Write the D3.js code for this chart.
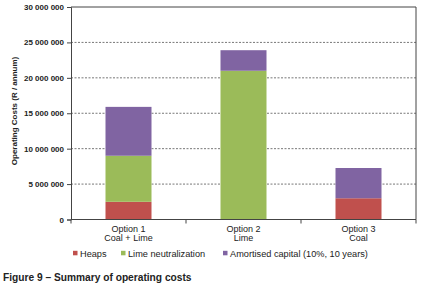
<!DOCTYPE html>
<html><head><meta charset="utf-8">
<script src="https://cdn.jsdelivr.net/npm/d3@7"></script>
<style>body{margin:0;background:#fff}svg{display:block;font-family:"Liberation Sans",Arial,sans-serif}</style>
</head><body>
<svg id="c" width="426" height="288"></svg>
<script>
const categories = [["Option 1","Coal + Lime"],["Option 2","Lime"],["Option 3","Coal"]];
const seriesNames = ["Heaps","Lime neutralization","Amortised capital (10%, 10 years)"];
const heaps = [2500000, 0, 3000000];
const lime = [6500000, 21000000, 0];
const capital = [6900000, 2900000, 4270000];
const yTicks = [0,5000000,10000000,15000000,20000000,25000000,30000000];
const colors = ["#C0504D","#9BBB59","#8064A2"];

const svg = d3.select("#c");
const m = {l:71, r:10, t:7, b:68.5};
const W = 426, H = 288;
const x = d3.scaleBand().domain(d3.range(categories.length)).range([m.l, W-m.r]).paddingInner(0.6).paddingOuter(0.3);
const y = d3.scaleLinear().domain([0,30000000]).range([H-m.b, m.t]);
const fmt = v => d3.format(",")(v).replace(/,/g," ");

// gridlines
svg.append("g").selectAll("line").data(yTicks.filter(t=>t>0 && t<30000000)).join("line")
  .attr("x1", m.l).attr("x2", W-m.r).attr("y1", d=>y(d)).attr("y2", d=>y(d))
  .attr("stroke","#555").attr("stroke-width",0.8).attr("stroke-dasharray","2,1.5");

// stacked bars
const rows = categories.map((c,i)=>({i, Heaps:heaps[i], Lime:lime[i], Cap:capital[i]}));
const stack = d3.stack().keys(["Heaps","Lime","Cap"])(rows);
stack.forEach((s,k)=>{
  svg.append("g").attr("fill", colors[k]).selectAll("rect").data(s).join("rect")
    .attr("x", d=>x(d.data.i)).attr("width", x.bandwidth())
    .attr("y", d=>y(d[1])).attr("height", d=>Math.max(0, y(d[0])-y(d[1])));
});

// plot border (top & right)
svg.append("path").attr("d", `M${m.l},${y(30000000)}H${W-m.r}V${y(0)}`)
  .attr("fill","none").attr("stroke","#444").attr("stroke-width",1);

// y axis
const ya = svg.append("g").attr("transform",`translate(${m.l},0)`)
  .call(d3.axisLeft(y).tickValues(yTicks).tickFormat(fmt).tickSize(4).tickPadding(3));
ya.select(".domain").attr("stroke","#444");
ya.selectAll(".tick line").attr("stroke","#444");
ya.selectAll("text").attr("font-size","8px").attr("font-weight","bold").attr("fill","#222").attr("font-family","Liberation Sans, Arial, sans-serif");

// x axis
const xa = svg.append("g").attr("transform",`translate(0,${y(0)})`);
xa.append("line").attr("x1",m.l).attr("x2",W-m.r).attr("stroke","#444");
const bounds = d3.range(categories.length+1).map(i=>m.l + i*(W-m.r-m.l)/categories.length);
xa.selectAll(".tk").data(bounds).join("line").attr("class","tk")
  .attr("x1",d=>d).attr("x2",d=>d).attr("y1",0).attr("y2",4).attr("stroke","#444");
categories.forEach((c,i)=>{
  const cx = x(i)+x.bandwidth()/2;
  const t = xa.append("text").attr("x", cx).attr("text-anchor","middle")
    .attr("font-size","9px").attr("fill","#222");
  t.append("tspan").attr("x", cx).attr("y", 12).text(c[0]);
  t.append("tspan").attr("x", cx).attr("y", 21.5).text(c[1]);
});

// y label
svg.append("text").attr("transform","translate(17,111) rotate(-90)").attr("text-anchor","middle")
  .attr("font-size","8px").attr("font-weight","bold").attr("fill","#222").text("Operating Costs (R / annum)");

// legend
const legX = [73, 121, 223];
seriesNames.forEach((n,k)=>{
  svg.append("rect").attr("x",legX[k]).attr("y",250.8).attr("width",4.5).attr("height",4.5).attr("fill",colors[k]);
  svg.append("text").attr("x",legX[k]+7).attr("y",256.5).attr("font-size","9.2px").attr("fill","#222").text(n);
});

// caption
svg.append("text").attr("x",3).attr("y",281).attr("font-size","10.2px").attr("font-weight","bold").attr("fill","#222")
  .text("Figure 9 \u2013 Summary of operating costs");
</script>
</body></html>
